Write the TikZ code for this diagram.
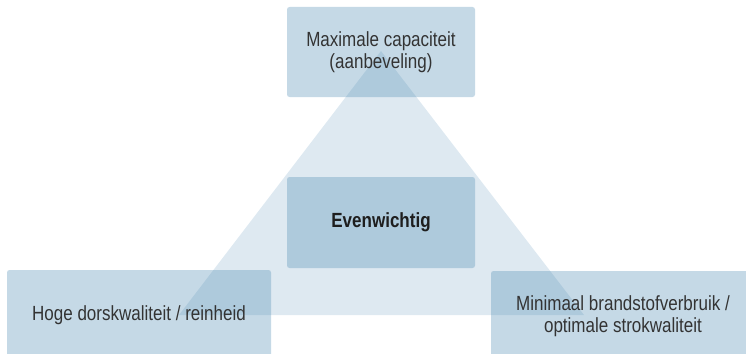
\documentclass[tikz,border=0pt]{standalone}
\usepackage{fontspec}
\setmainfont[FakeStretch=0.83]{Liberation Sans}
\definecolor{trifill}{RGB}{222,233,241}
\definecolor{boxfill}{RGB}{79,140,179}
\definecolor{txt}{RGB}{51,51,51}
\begin{document}
\begin{tikzpicture}[x=1pt,y=-1pt,
  box/.style={draw=none, fill=boxfill, fill opacity=0.33, text opacity=1,
    rounded corners=2.5pt, inner sep=0pt, align=center, text=txt,
    font=\fontsize{20.5}{22.5}\selectfont},
  bigbox/.style={box, minimum width=264pt, minimum height=90pt},
  smallbox/.style={box, minimum width=188pt, minimum height=90pt}]
\clip (0,0) rectangle (746,353);
\useasboundingbox (0,0) rectangle (746,353);
% triangle
\coordinate (apex) at (381,51);
\coordinate (lc) at (179,315);
\coordinate (rc) at (584,315);
\fill[trifill] (apex) -- (lc) -- (rc) -- cycle;
% boxes
\node[smallbox] (top) at (381,52) {Maximale capaciteit\\(aanbeveling)};
\node[smallbox, minimum height=91pt] (mid) at (381,222.5)
  {\bfseries\color[RGB]{30,30,30}Evenwichtig};
\node[bigbox] (left) at (139,315) {Hoge dorskwaliteit / reinheid};
\node[bigbox] (right) at (623,316) {Minimaal brandstofverbruik /\\optimale strokwaliteit};
\end{tikzpicture}
\end{document}
